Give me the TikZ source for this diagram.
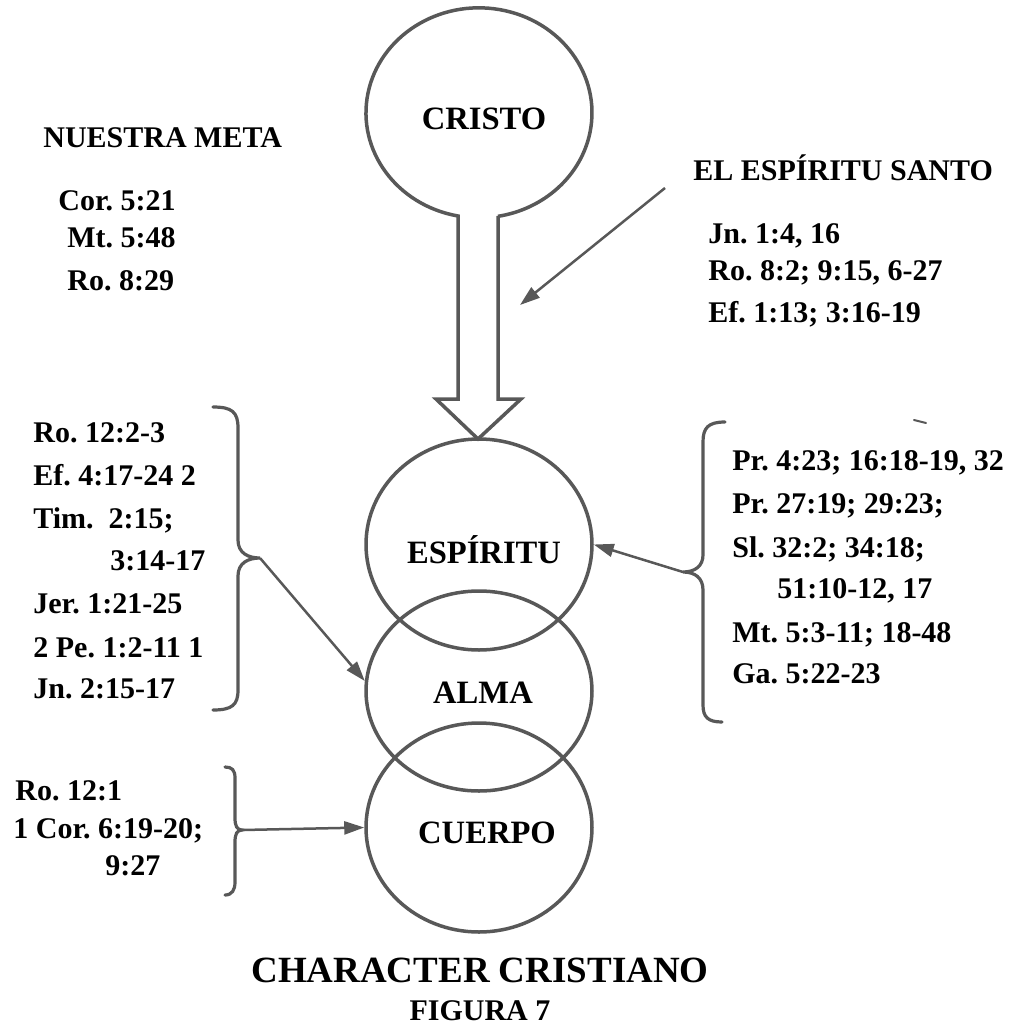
\documentclass[tikz,border=0pt]{standalone}
\usepackage{fontspec}
\setmainfont{Liberation Serif}
\usetikzlibrary{arrows.meta,shapes.geometric}
\definecolor{linegray}{RGB}{88,88,88}
\frenchspacing
\begin{document}
\begin{tikzpicture}[x=0.5pt,y=-0.5pt,
  shapeline/.style={draw=linegray, line width=1.75pt},
  conn/.style={draw=linegray, line width=1.25pt, -{Triangle[length=10pt,width=6.5pt]}},
  bracepath/.style={draw=linegray, line width=1.6pt, line cap=round},
  lbl/.style={inner sep=0pt, font=\fontsize{15}{18}\selectfont\bfseries, anchor=base west},
  ctr/.style={inner sep=0pt, font=\fontsize{15}{18}\selectfont\bfseries, anchor=base},
  big/.style={inner sep=0pt, font=\fontsize{16.3}{19}\selectfont\bfseries, anchor=base},
  oval/.style={ellipse, shapeline, inner sep=0pt, minimum width=113pt}
]
\useasboundingbox[fill=white] (0,0) rectangle (1015,1029);

% Cristo with hollow arrow stem
\draw[shapeline, line join=miter] (498,216) -- (498,399) -- (521,399) -- (478,439) -- (436,399) -- (458,399) -- (458,216)
  arc[start angle=100.7, end angle=440.3, x radius=113, y radius=105] -- cycle;
\node[big] (cristo) at (484,129) {CRISTO};

% three overlapping ovals
\node[oval, minimum height=105.5pt] (esp) at (479,544.5) {};
\node[oval, minimum height=100pt] (alma) at (479,691) {};
\node[oval, minimum height=104.5pt] (cuerpo) at (479,827.5) {};
\node[big] (espT) at (484,563) {ESPÍRITU};
\node[big] (almaT) at (483,703) {ALMA};
\node[big] (cuerpoT) at (487,843) {CUERPO};

% Nuestra meta
\node[lbl] (meta) at (43,147) {NUESTRA META};
\node[lbl] (m1) at (58,210) {Cor. 5:21};
\node[lbl] (m2) at (67,247) {Mt. 5:48};
\node[lbl] (m3) at (67,290) {Ro. 8:29};

% El Espiritu Santo
\node[lbl] (santo) at (693,180) {EL ESPÍRITU SANTO};
\node[lbl] (s1) at (708,243) {Jn. 1:4, 16};
\node[lbl] (s2) at (708,280) {Ro. 8:2; 9:15, 6-27};
\node[lbl] (s3) at (708,322) {Ef. 1:13; 3:16-19};
\coordinate (santoTail) at (665,188);
\coordinate (santoTip) at (520,305);
\draw[conn] (santoTail) -- (santoTip);

% left references (alma)
\node[lbl] (l1) at (33,442) {Ro. 12:2-3};
\node[lbl] (l2) at (33,485) {Ef. 4:17-24 2};
\node[lbl] (l3) at (33,528) {Tim.\ \ 2:15;};
\node[lbl] (l4) at (110,570) {3:14-17};
\node[lbl] (l5) at (33,613) {Jer. 1:21-25};
\node[lbl] (l6) at (33,657) {2 Pe. 1:2-11 1};
\node[lbl] (l7) at (33,698) {Jn. 2:15-17};
\coordinate (ltip) at (260,558);
\draw[bracepath] (213,407) .. controls (232,407) and (238,412) .. (238,428) -- (238,540)
  .. controls (238,553) and (248,558) .. (ltip)
  .. controls (248,558) and (238,563) .. (238,576) -- (238,690)
  .. controls (238,705) and (232,710) .. (213,710);
\draw[conn] (ltip) -- (alma.175);

% right references (espiritu)
\node[lbl] (r1) at (732,470) {Pr. 4:23; 16:18-19, 32};
\node[lbl] (r2) at (732,513) {Pr. 27:19; 29:23;};
\node[lbl] (r3) at (732,557) {Sl. 32:2; 34:18;};
\node[lbl] (r4) at (777,598) {51:10-12, 17};
\node[lbl] (r5) at (732,642) {Mt. 5:3-11; 18-48};
\node[lbl] (r6) at (732,683) {Ga. 5:22-23};
\coordinate (rtip) at (683,572);
\draw[bracepath] (725,422) .. controls (708,422) and (703,428) .. (703,442) -- (703,555)
  .. controls (703,566) and (695,572) .. (rtip)
  .. controls (695,572) and (703,578) .. (703,590) -- (703,705)
  .. controls (703,717) and (708,722) .. (722,722);
\draw[linegray, line width=1pt, line cap=round] (914,420) -- (926,423);
\draw[conn] (rtip) -- (esp.east);

% bottom-left references (cuerpo)
\node[lbl] (b1) at (15,800) {Ro. 12:1};
\node[lbl] (b2) at (13,838) {1 Cor. 6:19-20;};
\node[lbl] (b3) at (105,875) {9:27};
\coordinate (btip) at (242,830);
\draw[bracepath] (225,767) .. controls (232,767) and (235,770) .. (235,778) -- (235,818)
  .. controls (235,826) and (237,830) .. (btip)
  .. controls (237,830) and (235,834) .. (235,842) -- (235,882)
  .. controls (235,890) and (232,895) .. (225,895);
\draw[conn] (btip) -- (cuerpo.west);

% titles
\node[ctr, font=\fontsize{18.5}{22}\selectfont\bfseries] (title) at (480,982) {CHARACTER CRISTIANO};
\node[ctr] (fig) at (480,1020) {FIGURA 7};
\end{tikzpicture}
\end{document}
